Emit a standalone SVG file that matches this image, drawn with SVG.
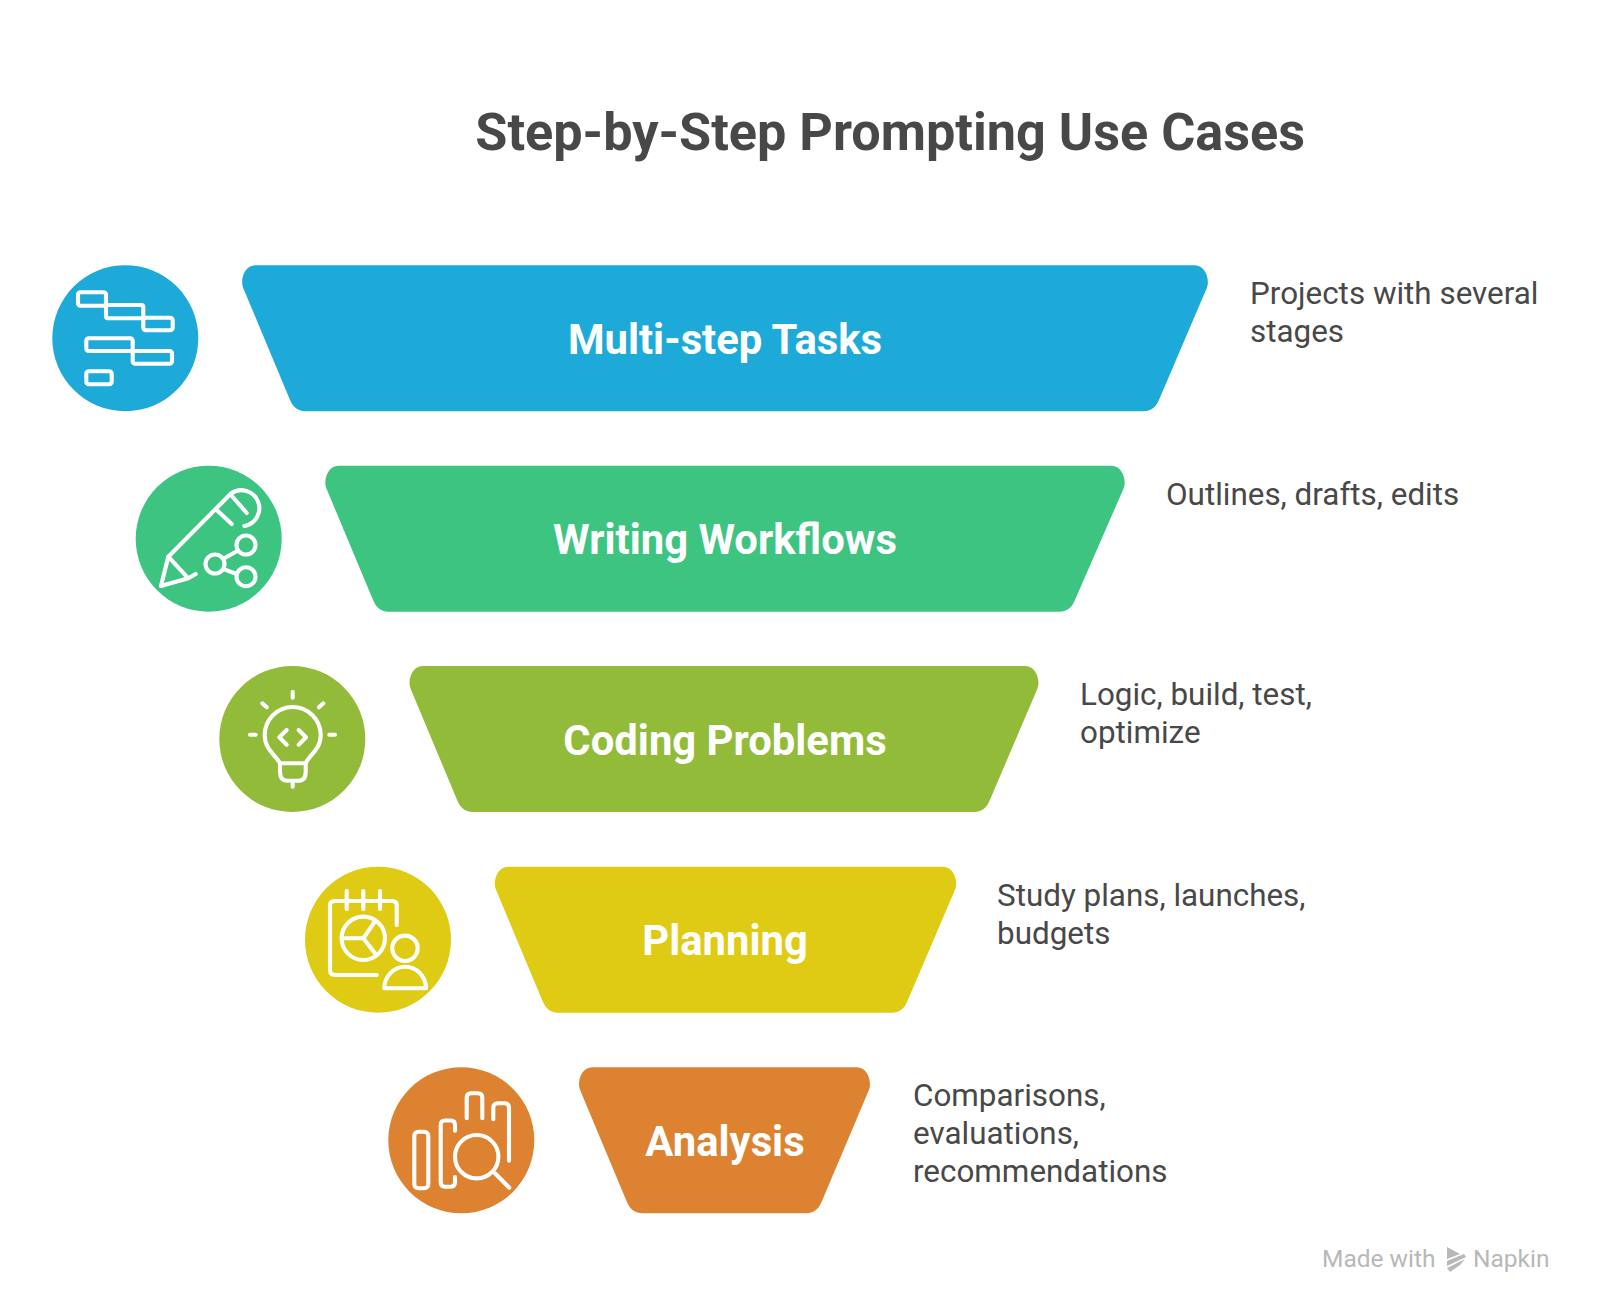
<svg xmlns="http://www.w3.org/2000/svg" width="1600" height="1316" viewBox="0 0 1600 1316">
<style>
.ic{fill:none;stroke:#fff;stroke-width:4.1;stroke-linecap:round;stroke-linejoin:round}
.lab{font:700 41.800px Roboto,sans-serif;fill:#fff;text-anchor:middle}
.desc{font:400 31.4px Roboto,sans-serif;fill:#484848}
.foot{font:400 24.5px Roboto,sans-serif;fill:#b8b8b8}
</style>
<rect width="1600" height="1316" fill="#fff"/>
<text x="890.200" y="150" text-anchor="middle" style="font:700 52.200px Roboto,sans-serif;fill:#484848">Step-by-Step Prompting Use Cases</text>
<g id="connectors"/>
<g id="node1">
<circle cx="125.300" cy="338.200" r="73" fill="#1eaad9"/>
<g class="ic">
<rect x="78" y="292.300" width="28" height="13.400" rx="2.500"/>
<rect x="106" y="305" width="37.300" height="13.300" rx="2"/>
<rect x="143.300" y="317.700" width="29.400" height="12.600" rx="2.500"/>
<rect x="86.300" y="338.300" width="46.400" height="12.700" rx="2.500"/>
<rect x="132.700" y="351" width="39.300" height="12.700" rx="2.500"/>
<rect x="86.300" y="371.300" width="25.400" height="13" rx="2.500"/>
</g>
<path fill="#1eaad9" d="M243.300 288.200c-3.500-8 1-23 12-23h939.400c11 0 15.500 15 12 23l-47 110c-3 8-8 13-16 13h-838.400c-8 0-13-5-16-13z"/>
<text class="lab" x="725" y="353.500">Multi-step Tasks</text>
<text class="desc" x="1250" y="304">Projects with several</text>
<text class="desc" x="1250" y="342">stages</text>
</g>
<g id="node2">
<circle cx="208.700" cy="538.700" r="73" fill="#3ec481"/>
<g class="ic">
<path d="M161 586L168.300 556.700L231 493.500A18 18 0 1 1 244.300 526"/>
<path d="M168.300 556.700L188.300 578.300M161 586L188.300 578.300L195.700 574M216.700 510L231.700 524M231 495L246.700 513"/>
<circle cx="246" cy="545" r="9.500"/>
<circle cx="215" cy="564" r="9.500"/>
<circle cx="246" cy="576.700" r="9.500"/>
<path d="M224.300 558.300L237.700 550.700M224.300 569.300L236.700 574"/>
</g>
<path fill="#3ec481" d="M326.500 488.700c-3.500-8 1-23 12-23h773c11 0 15.500 15 12 23l-48 110c-3 8-8 13-16 13h-671c-8 0-13-5-16-13z"/>
<text class="lab" x="725" y="554">Writing Workflows</text>
<text class="desc" x="1166" y="505">Outlines, drafts, edits</text>
</g>
<g id="node3">
<circle cx="292.300" cy="739" r="73" fill="#92bb3a"/>
<g class="ic">
<path d="M292.700 691.700V697.700M262.300 703.300L266.700 707.300M323.300 703.300L319 707.300M250 734.700H255.700M329.300 734.700H335"/>
<path d="M280 763.300C276 755 264.700 750 264.700 735A28 28 0 0 1 320.700 735C320.700 750 309 755 305.700 763.300Z"/>
<path d="M280 763.300V771.700Q280 780.700 287.300 780.700H298.300Q305.700 780.700 305.700 771.700V763.300M292.700 780.700V786.700"/>
<path d="M286.700 730L279.300 737.300L286.700 744.700M298.700 730L306 737.300L298.700 744.700"/>
</g>
<path fill="#92bb3a" d="M410.700 689c-3.500-8 1-23 12-23h602.600c11 0 15.500 15 12 23l-47 110c-3 8-8 13-16 13h-501.600c-8 0-13-5-16-13z"/>
<text class="lab" x="725" y="754.500">Coding Problems</text>
<text class="desc" x="1080" y="705">Logic, build, test,</text>
<text class="desc" x="1080" y="743">optimize</text>
</g>
<g id="node4">
<circle cx="378" cy="939.700" r="73" fill="#dfcb13"/>
<g class="ic">
<path d="M396.700 925V905Q396.700 901 392 901H335Q330 901 330 905V970Q330 975 335 975H376.700"/>
<path d="M346.700 891V909M363.300 891V909M380 891V909"/>
<circle cx="363.300" cy="938.300" r="21.700"/>
<path d="M374.300 922.300L363.300 938.300L341.700 938.300M363.300 938.300L375 953.300"/>
<circle cx="405" cy="948.300" r="12.700"/>
<path d="M384.300 988.300a20.850 21.500 0 0 1 41.700 0z"/>
</g>
<path fill="#dfcb13" d="M496 889.700c-3.500-8 1-23 12-23h435c11 0 15.500 15 12 23l-47 110c-3 8-8 13-16 13h-334c-8 0-13-5-16-13z"/>
<text class="lab" x="725" y="955">Planning</text>
<text class="desc" x="997" y="906">Study plans, launches,</text>
<text class="desc" x="997" y="944">budgets</text>
</g>
<g id="node5">
<circle cx="461.300" cy="1140.300" r="73" fill="#dc8230"/>
<g class="ic">
<rect x="414.300" y="1131.700" width="14" height="56.600" rx="4"/>
<path d="M455 1130.700V1125Q455 1120.500 451 1120.500H444.700Q440.700 1120.500 440.700 1125V1182Q440.700 1186.700 445 1186.700H451Q455 1186.700 455 1182V1177"/>
<path d="M466.700 1118.300V1098Q466.700 1093.300 471 1093.300H478Q482.300 1093.300 482.300 1098V1118.300"/>
<path d="M493.300 1119.300V1108Q493.300 1103.300 498 1103.300H504.500Q509 1103.300 509 1108V1160.700"/>
<circle cx="476.700" cy="1156.700" r="21.700"/>
<path d="M495 1173.300L509.300 1187.700"/>
</g>
<path fill="#dc8230" d="M580.200 1090.300c-3.500-8 1-23 12-23h264.600c11 0 15.500 15 12 23l-46.500 110c-3 8-8 13-16 13h-164.100c-8 0-13-5-16-13z"/>
<text class="lab" x="725" y="1155.500">Analysis</text>
<text class="desc" x="913" y="1106">Comparisons,</text>
<text class="desc" x="913" y="1144">evaluations,</text>
<text class="desc" x="913" y="1182">recommendations</text>
</g>
<g id="watermark">
<text class="foot" x="1322" y="1267">Made with</text>
<path fill="#b8b8b8" d="M1447 1247L1460 1254L1447 1259ZM1447 1261L1464 1254L1466 1257L1447 1266ZM1447 1268L1465 1259L1460 1265L1450 1272Z"/>
<text class="foot" x="1473" y="1267">Napkin</text>
</g>
</svg>
